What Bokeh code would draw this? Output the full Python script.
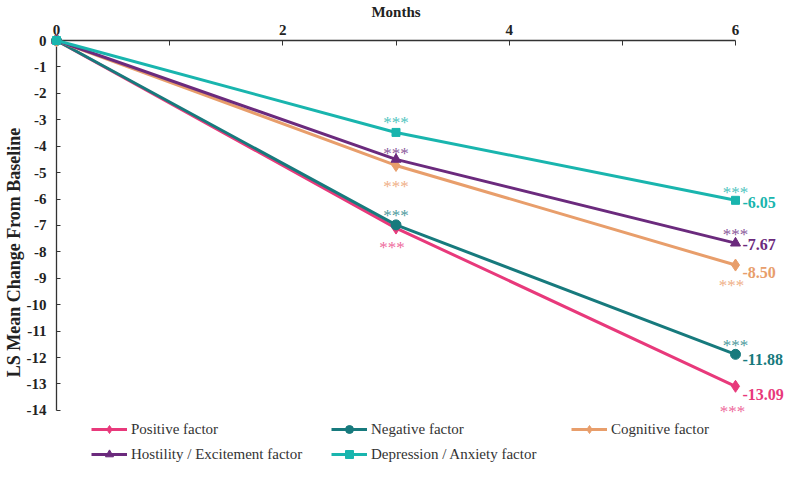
from bokeh.plotting import figure
from bokeh.models import ColumnDataSource, Range1d, FixedTicker, Legend, LegendItem
from bokeh.core.properties import value
from bokeh.embed import file_html
from bokeh.resources import INLINE

# ---------------- data ----------------
months = [0, 3, 6]
positive = [0, -7.10, -13.09]
negative = [0, -6.98, -11.88]
cognitive = [0, -4.73, -8.50]
hostility = [0, -4.50, -7.67]
depression = [0, -3.48, -6.05]

series_names = ["Positive factor", "Negative factor", "Cognitive factor",
                "Hostility / Excitement factor", "Depression / Anxiety factor"]
end_labels = ["-13.09", "-11.88", "-8.50", "-7.67", "-6.05"]
signif_months = [3, 6]
signif_text = "***"

x_ticks = [0, 2, 4, 6]
x_minor_ticks = [1, 3, 5]
y_ticks = list(range(0, -15, -1))
y_tick_labels = [str(t) for t in y_ticks]

# ---------------- styles ----------------
series_values = [positive, negative, cognitive, hostility, depression]
colors = ["#E8397B", "#177A7D", "#E89E6B", "#6B2A7D", "#19B5AE"]
star_colors = ["#EE6A9C", "#4E9A9D", "#EFB088", "#8C5A9B", "#50C5C0"]
markers = ["diamond", "circle", "diamond", "triangle", "square"]
marker_sizes = [12, 10, 12, 10, 8]
# star offsets (dx, dy) in px for month 3 and month 6
star_off_m3 = [(-4, 13), (0, -15), (0, 15), (0, -12), (0, -16)]
star_off_m6 = [(-3, 19), (0, -15), (-4, 14), (0, -15), (0, -14)]
end_label_dy = [8, 5, 7, 1, 2]

SERIF = "Liberation Serif"
Y_LOW = -16.05  # extra room under the axis for the legend rows

p = figure(width=784, height=464, output_backend="svg", toolbar_location=None,
           x_range=Range1d(0, 6), y_range=Range1d(Y_LOW, 0),
           x_axis_location="above",
           min_border_left=49, min_border_right=49, min_border_top=30, min_border_bottom=0)
p.outline_line_color = None
p.xgrid.visible = False
p.ygrid.visible = False
p.background_fill_color = "white"

# x axis (top)
xa = p.xaxis[0]
xa.ticker = FixedTicker(ticks=x_ticks, minor_ticks=x_minor_ticks)
xa.axis_label = "Months"
xa.axis_label_text_font = SERIF
xa.axis_label_text_font_style = "bold"
xa.axis_label_text_font_size = "15px"
xa.axis_label_text_color = "#222222"
xa.axis_label_standoff = 2
xa.major_label_text_font = SERIF
xa.major_label_text_font_style = "bold"
xa.major_label_text_font_size = "15px"
xa.major_label_text_color = "#222222"
xa.major_label_standoff = 6
xa.major_tick_in = 5
xa.major_tick_out = 0
xa.minor_tick_in = 5
xa.minor_tick_out = 0
xa.axis_line_color = "#333333"
xa.major_tick_line_color = "#333333"
xa.minor_tick_line_color = "#333333"
xa.axis_line_width = 1.3

# y axis (left)
ya = p.yaxis[0]
ya.ticker = FixedTicker(ticks=y_ticks, minor_ticks=[])
ya.bounds = (min(y_ticks), max(y_ticks))
ya.major_label_overrides = {t: l for t, l in zip(y_ticks, y_tick_labels)}
ya.axis_label = "LS Mean Change From Baseline"
ya.axis_label_text_font = SERIF
ya.axis_label_text_font_style = "bold"
ya.axis_label_text_font_size = "18px"
ya.axis_label_text_color = "#222222"
ya.axis_label_standoff = 0
ya.major_label_text_font = SERIF
ya.major_label_text_font_style = "bold"
ya.major_label_text_font_size = "15px"
ya.major_label_text_color = "#222222"
ya.major_label_standoff = 10
ya.major_tick_in = 4
ya.major_tick_out = 0
ya.minor_tick_line_color = None
ya.axis_line_color = "#333333"
ya.major_tick_line_color = "#333333"
ya.axis_line_width = 1.3

items = []
for i, vals in enumerate(series_values):
    src = ColumnDataSource(dict(x=months, y=vals))
    lr = p.line("x", "y", source=src, line_color=colors[i], line_width=3, level="overlay")
    sr = p.scatter("x", "y", source=src, marker=markers[i], size=marker_sizes[i],
                   fill_color=colors[i], line_color=colors[i], level="overlay")
    items.append(LegendItem(label=series_names[i], renderers=[lr, sr]))

    # significance stars
    sy = [vals[months.index(m)] for m in signif_months]
    offs = [star_off_m3[i], star_off_m6[i]]
    ssrc = ColumnDataSource(dict(x=signif_months, y=sy,
                                 dx=[o[0] for o in offs], dy=[o[1] + 6 for o in offs],
                                 t=[signif_text] * len(signif_months)))
    p.text("x", "y", text="t", source=ssrc, x_offset="dx", y_offset="dy",
           text_font=value(SERIF), text_font_size="17px", text_color=star_colors[i],
           text_align="center", text_baseline="middle", level="overlay")

    # end value label
    esrc = ColumnDataSource(dict(x=[months[-1]], y=[vals[-1]], t=[end_labels[i]]))
    p.text("x", "y", text="t", source=esrc, x_offset=7, y_offset=end_label_dy[i],
           text_font=value(SERIF), text_font_style="bold", text_font_size="16px",
           text_color=colors[i], text_align="left", text_baseline="middle", level="overlay")

def make_legend(its, ypos):
    return Legend(items=its, orientation="horizontal", location=(35, ypos),
                  border_line_color=None, background_fill_alpha=0,
                  padding=0, margin=0, spacing=0,
                  glyph_width=36, glyph_height=20, label_height=20,
                  label_width=200, label_standoff=4,
                  label_text_font=SERIF, label_text_font_size="15px",
                  label_text_color="#333333")

p.add_layout(make_legend(items[:3], 25), "center")
p.add_layout(make_legend(items[3:], 0), "center")

open("out.html", "w").write(file_html(p, INLINE))
